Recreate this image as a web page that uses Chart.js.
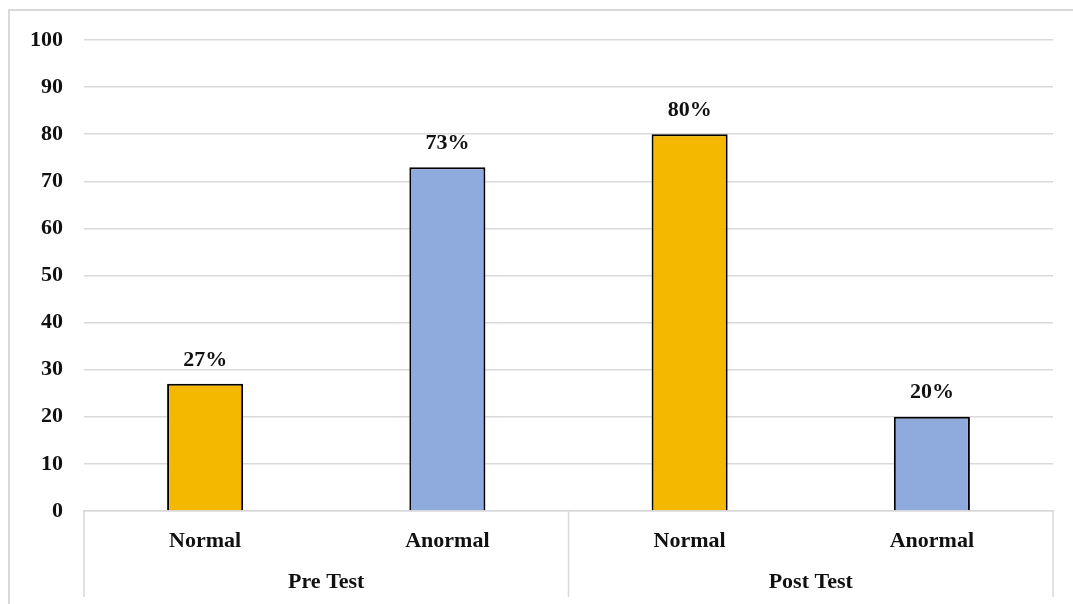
<!DOCTYPE html>
<html>
<head>
<meta charset="utf-8">
<script src="https://cdn.jsdelivr.net/npm/chart.js@4/dist/chart.umd.min.js"></script>
<style>
  html, body { margin: 0; padding: 0; background: #fff; }
  #wrap { width: 1073px; height: 604px; }
</style>
</head>
<body>
<div id="wrap"><canvas id="myChart" width="1073" height="604"></canvas></div>
<script>
// datos
const categorias = ['Normal', 'Anormal', 'Normal', 'Anormal'];
const grupos = ['Pre Test', 'Post Test'];
const valores = [27, 73, 80, 20];
const etiquetas = ['27%', '73%', '80%', '20%'];
const colores = ['#F5B800', '#8FAADC', '#F5B800', '#8FAADC'];

const fuente = 'Liberation Serif, Times New Roman, serif';
const gris = '#d9d9d9';

// marco exterior, separadores de grupo y textos de grupo / valores
const extras = {
  id: 'extras',
  beforeDraw(chart) {
    const ctx = chart.ctx;
    ctx.save();
    ctx.strokeStyle = gris;
    ctx.lineWidth = 2;
    ctx.strokeRect(9, 10, 1100, 700);
    ctx.restore();
  },
  afterDraw(chart) {
    const ctx = chart.ctx;
    const x = chart.scales.x;
    const area = chart.chartArea;
    ctx.save();
    // lineas verticales entre grupos
    ctx.strokeStyle = gris;
    ctx.lineWidth = 1.5;
    const bordes = [area.left, (x.getPixelForValue(1) + x.getPixelForValue(2)) / 2, area.right];
    bordes.forEach(function (px) {
      ctx.beginPath();
      ctx.moveTo(px, area.bottom);
      ctx.lineTo(px, 597);
      ctx.stroke();
    });
    // nombres de grupo
    ctx.fillStyle = '#111';
    ctx.font = 'bold 22px ' + fuente;
    ctx.textAlign = 'center';
    ctx.textBaseline = 'middle';
    grupos.forEach(function (g, i) {
      const cx = (x.getPixelForValue(i * 2) + x.getPixelForValue(i * 2 + 1)) / 2;
      ctx.fillText(g, cx, 582);
    });
    // etiquetas de valor sobre las barras
    const meta = chart.getDatasetMeta(0);
    meta.data.forEach(function (bar, i) {
      ctx.fillText(etiquetas[i], bar.x, bar.y - 24);
    });
    ctx.restore();
  }
};

new Chart(document.getElementById('myChart'), {
  type: 'bar',
  data: {
    labels: categorias,
    datasets: [{
      data: valores,
      backgroundColor: colores,
      borderColor: '#000',
      borderWidth: 2,
      borderSkipped: 'bottom',
      barPercentage: 0.314,
      categoryPercentage: 1
    }]
  },
  options: {
    responsive: false,
    animation: false,
    devicePixelRatio: 1,
    layout: { padding: { left: 9, right: 20, top: 40, bottom: 0 } },
    plugins: {
      legend: { display: false },
      tooltip: { enabled: false }
    },
    scales: {
      x: {
        grid: { display: false },
        border: { display: true, color: gris, width: 1.5 },
        ticks: {
          color: '#111',
          font: { family: fuente, size: 22, weight: 'bold' },
          padding: 9,
          maxRotation: 0
        },
        afterFit(scale) { scale.height = 93; }
      },
      y: {
        min: 0,
        max: 100,
        grid: { color: gris, lineWidth: 1.5, drawTicks: false },
        border: { display: false },
        ticks: {
          stepSize: 10,
          color: '#111',
          font: { family: fuente, size: 22, weight: 'bold' },
          padding: 21
        },
        afterFit(scale) { scale.width = 75; }
      }
    }
  },
  plugins: [extras]
});
</script>
</body>
</html>
